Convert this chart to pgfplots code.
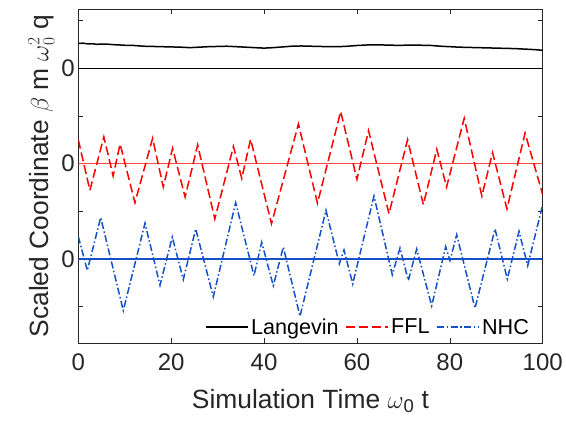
\documentclass[border=0pt]{standalone}
\usepackage{pgfplots}
\pgfplotsset{compat=1.18}
\usepackage{fontspec}
\setmainfont{Liberation Sans}
\definecolor{txt}{RGB}{38,38,38}
\definecolor{nhcblue}{RGB}{20,80,200}
\definecolor{fflred}{RGB}{255,0,0}
\definecolor{zeropink}{RGB}{255,70,70}
\begin{document}
\begin{tikzpicture}
\begin{axis}[
  name=ax,
  scale only axis,
  width=464.4pt, height=334pt,
  xmin=0, xmax=100,
  ymin=-3.76, ymax=3.24,
  xtick={0,20,40,60,80,100},
  ytick={-3,-2,-1,0,1,2,3},
  yticklabels={,0,,0,,0,},
  tick align=inside,
  major tick length=5pt,
  tick style={color=txt, line width=0.6pt},
  axis line style={color=txt, line width=0.6pt},
  /pgf/number format/assume math mode=true,
  ticklabel style={font=\fontsize{24}{28}\selectfont, text=txt},
  xticklabel style={yshift=-7pt},
  label style={font=\fontsize{26.4}{30}\selectfont, text=txt},
  xlabel style={yshift=-12pt},
  xlabel={Simulation Time $\omega$\textsubscript{0} t},
  ylabel={Scaled Coordinate $\beta$ m $\omega_0^2$ q},
  legend columns=-1,
  legend style={font=\fontsize{21.6}{24}\selectfont, draw=none, fill=none,
    at={(rel axis cs:0.975,0.015)}, anchor=south east, inner sep=0pt,
    /tikz/every even column/.append style={column sep=5pt}},
  legend image code/.code={\draw[#1,line width=1.5pt] (0pt,0pt) -- (42pt,0pt);},
]
% zero lines
\addplot[draw=black, line width=0.9pt, forget plot] coordinates {(0,2) (50,2) (100,2)};
\addplot[draw=zeropink, line width=1.5pt, forget plot] coordinates {(0,0) (50,0) (100,0)};
\addplot[draw=nhcblue, line width=1.2pt, forget plot] coordinates {(0,-2) (50,-2) (100,-2)};
% Langevin
\addplot[draw=black, line width=1.5pt] coordinates {
(0,2.52) (1,2.523) (2,2.51) (3,2.512) (4,2.50) (5,2.504) (6,2.505) (7,2.497) (8,2.49) (9,2.486) (10,2.48)
(12,2.475) (14,2.46) (16,2.455) (18,2.45) (20,2.445) (22,2.44) (24,2.43) (26,2.44) (28,2.45)
(30,2.455) (32,2.46) (34,2.45) (36,2.44) (38,2.43) (40,2.42) (42,2.43) (44,2.445) (46,2.46)
(48,2.465) (50,2.46) (52,2.455) (54,2.45) (56,2.45) (58,2.46) (60,2.475) (62,2.485) (64,2.49)
(66,2.485) (68,2.48) (70,2.48) (72,2.485) (74,2.48) (76,2.475) (78,2.46) (80,2.45) (82,2.44)
(84,2.435) (86,2.43) (88,2.425) (90,2.42) (92,2.415) (94,2.41) (96,2.40) (98,2.39) (100,2.375)};
\addlegendentry{Langevin}
% FFL
\addplot[draw=fflred, line width=1.5pt, dash pattern=on 9pt off 4pt] coordinates {
(0,0.50) (2.5,-0.56) (5.5,0.56) (7.5,-0.26) (9.0,0.41) (12.2,-0.82) (16.0,0.53) (18.3,-0.49)
(20.3,0.32) (23.0,-0.70) (25.7,0.39) (29.4,-1.16) (33.4,0.36) (35.2,-0.31) (37.1,0.51)
(41.6,-1.26) (47.4,0.83) (51.5,-0.83) (56.5,1.09) (60.0,-0.33) (62.5,0.69) (66.9,-1.05)
(70.9,0.50) (74.3,-0.86) (77.2,0.30) (79.3,-0.49) (83.1,0.95) (86.9,-0.68) (89.2,0.23)
(92.3,-0.95) (96.2,0.64) (100,-0.65)};
\addlegendentry{FFL}
% NHC
\addplot[draw=nhcblue, line width=1.5pt, dash pattern=on 7pt off 2.5pt on 1.5pt off 2.5pt] coordinates {
(0,-1.53) (1.94,-2.24) (4.82,-1.13) (9.69,-3.08) (14.36,-1.25) (17.59,-2.55) (20.24,-1.54)
(22.61,-2.43) (25.28,-1.37) (29.07,-2.79) (33.89,-0.82) (37.83,-2.35) (39.49,-1.65)
(41.99,-2.56) (44.14,-1.75) (47.74,-3.20) (53.33,-0.98) (56.20,-2.10) (57.21,-1.81)
(59.09,-2.52) (63.67,-0.68) (67.61,-2.33) (69.27,-1.77) (71.06,-2.45) (72.87,-1.79)
(76.10,-2.98) (79.11,-1.74) (80.04,-2.03) (81.48,-1.49) (85.42,-3.03) (89.73,-1.37)
(92.38,-2.42) (94.90,-1.42) (96.77,-2.14) (100,-0.86)};
\addlegendentry{NHC}
\end{axis}
\pgfresetboundingbox
\path ([xshift=-78.3pt,yshift=-79pt]ax.south west) rectangle ([xshift=23.3pt,yshift=9pt]ax.north east);
\end{tikzpicture}
\end{document}
